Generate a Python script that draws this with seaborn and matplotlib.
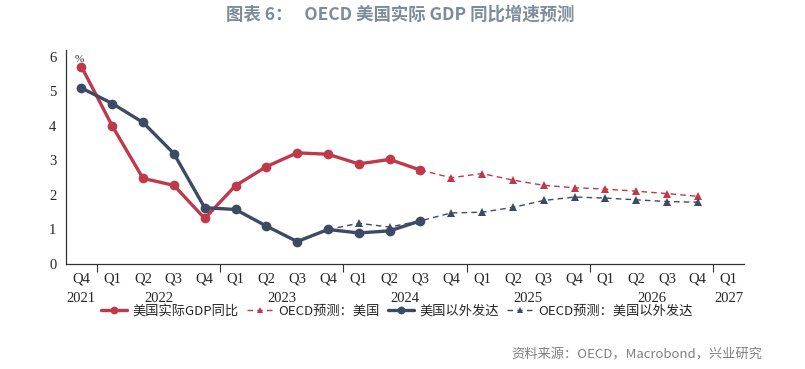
import pandas as pd
import matplotlib
matplotlib.use("Agg")
import matplotlib.pyplot as plt
import seaborn as sns

quarters = ["Q4", "Q1", "Q2", "Q3", "Q4", "Q1", "Q2", "Q3", "Q4", "Q1", "Q2",
            "Q3", "Q4", "Q1", "Q2", "Q3", "Q4", "Q1", "Q2", "Q3", "Q4", "Q1"]
years = ["2021", "2022", "2023", "2024", "2025", "2026", "2027"]
year_pos = [0, 2.5, 6.5, 10.5, 14.5, 18.5, 21]

us_actual = [5.72, 4.00, 2.48, 2.28, 1.32, 2.27, 2.82, 3.22, 3.18, 2.90, 3.03, 2.72]
us_fcst_idx = list(range(11, 21))
us_fcst = [2.72, 2.50, 2.62, 2.43, 2.28, 2.21, 2.17, 2.11, 2.04, 1.96]

adv_actual = [5.10, 4.65, 4.10, 3.20, 1.63, 1.58, 1.10, 0.65, 1.00, 0.90, 0.96, 1.25]
adv_fcst_idx = list(range(8, 21))
adv_fcst = [1.00, 1.18, 1.07, 1.25, 1.48, 1.50, 1.64, 1.84, 1.94, 1.91, 1.86, 1.81, 1.79]

red = "#C0394B"
navy = "#3D4A66"

df_us = pd.DataFrame({"x": range(len(us_actual)), "y": us_actual})
df_us_f = pd.DataFrame({"x": us_fcst_idx, "y": us_fcst})
df_adv = pd.DataFrame({"x": range(len(adv_actual)), "y": adv_actual})
df_adv_f = pd.DataFrame({"x": adv_fcst_idx, "y": adv_fcst})

sns.set_style("white")
plt.rcParams["font.family"] = ["Noto Sans CJK SC", "DejaVu Sans"]

fig = plt.figure(figsize=(8.05, 3.69), dpi=100)
ax = fig.add_axes([66 / 805, 1 - 264 / 369, 678 / 805, 214 / 369])

sns.lineplot(data=df_us_f, x="x", y="y", ax=ax, color=red, lw=1.0, ls=(0, (4, 3)),
             marker="^", markersize=6, markeredgewidth=0, label="OECD预测：美国")
sns.lineplot(data=df_adv_f, x="x", y="y", ax=ax, color=navy, lw=1.0, ls=(0, (4, 3)),
             marker="^", markersize=6, markeredgewidth=0, label="OECD预测：美国以外发达")
sns.lineplot(data=df_us, x="x", y="y", ax=ax, color=red, lw=2.4,
             marker="o", markersize=7, markeredgewidth=0, label="美国实际GDP同比")
sns.lineplot(data=df_adv, x="x", y="y", ax=ax, color=navy, lw=2.4,
             marker="o", markersize=7, markeredgewidth=0, label="美国以外发达")

ax.set_xlim(-0.5, 21.5)
ax.set_ylim(0, 6.2)
ax.set_xlabel("")
ax.set_ylabel("")
for s in ["top", "right"]:
    ax.spines[s].set_visible(False)
for s in ["left", "bottom"]:
    ax.spines[s].set_color("#333333")
    ax.spines[s].set_linewidth(0.9)

serif = "Liberation Serif"
ax.set_yticks(range(7))
ax.set_yticklabels([str(i) for i in range(7)], fontfamily=serif, fontsize=10.5)
ax.tick_params(axis="y", direction="out", length=4, width=0.8, color="#333333", pad=3)

ax.set_xticks(range(len(quarters)))
ax.set_xticklabels(quarters, fontfamily=serif, fontsize=10.5)
ax.set_xticks([i + 0.5 for i in range(-1, 22)], minor=True)
ax.tick_params(axis="x", which="major", length=0, pad=6)
ax.tick_params(axis="x", which="minor", direction="in", length=3, width=0.8, color="#333333")

sec = ax.secondary_xaxis("bottom")
sec.set_xticks([0.5, 4.5, 8.5, 12.5, 16.5, 20.5])
sec.set_xticklabels([])
sec.set_xticks(year_pos, minor=True)
sec.set_xticklabels(years, minor=True, fontfamily=serif, fontsize=10.5)
sec.tick_params(axis="x", which="major", direction="out", length=6, width=0.8, color="#333333")
sec.tick_params(axis="x", which="minor", length=0, pad=20)
sec.spines["bottom"].set_visible(False)

ax.text(0.012, 0.975, "%", transform=ax.transAxes, fontsize=8, fontfamily=serif,
        ha="left", va="top")

handles, labels = ax.get_legend_handles_labels()
order = [2, 0, 3, 1]
ax.get_legend().remove()
fig.legend([handles[i] for i in order], [labels[i] for i in order],
           loc="center", bbox_to_anchor=(0.493, 1 - 311 / 369), ncol=4, frameon=False,
           fontsize=9.5, handlelength=2.0, columnspacing=0.6, handletextpad=0.4,
           markerscale=0.8)

fig.text(0.497, 1 - 15 / 369, "图表 6：   OECD 美国实际 GDP 同比增速预测", ha="center",
         va="center", fontsize=12.5, fontweight="bold", color="#7D8B9C")
fig.text(762 / 805, 1 - 355 / 369, "资料来源：OECD，Macrobond，兴业研究", ha="right",
         va="center", fontsize=9.5, color="#808080")

fig.savefig("out.png", dpi=100)
